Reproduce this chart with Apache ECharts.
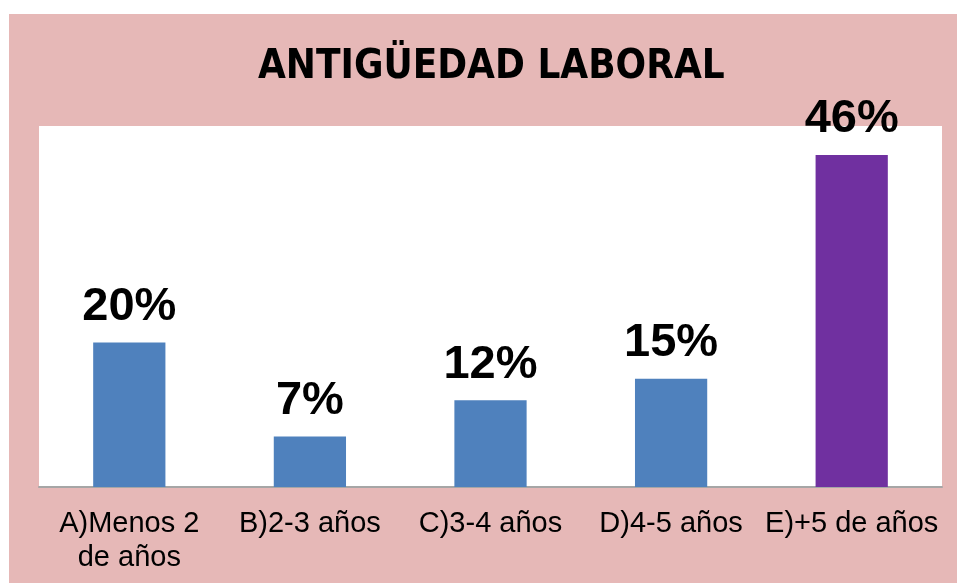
<!DOCTYPE html>
<html lang="es">
<head>
  <meta charset="UTF-8">
  <title>Antigüedad laboral</title>
  <script src="https://cdn.jsdelivr.net/npm/echarts@6/dist/echarts.min.js"></script>
  <style>
    * { margin: 0; padding: 0; }
    body { background: #fff; width: 957px; height: 583px; position: relative; overflow: hidden; }
    #chart { position: absolute; left: 9px; top: 14px; width: 948px; height: 569px; }
  </style>
</head>
<body>
  <div id="chart"></div>
  <script>
    // datos
    const categorias = ['A)Menos 2\nde años', 'B)2-3 años', 'C)3-4 años', 'D)4-5 años', 'E)+5 de años']
    const valores = [20, 7, 12, 15, 46]
    const colores = ['#4F81BD', '#4F81BD', '#4F81BD', '#4F81BD', '#7030A0']

    var myChart = echarts.init(document.getElementById('chart'))
    var option = {
      backgroundColor: '#E6B8B7',
      animation: false,
      title: {
        text: 'ANTIGÜEDAD LABORAL',
        left: 244,
        top: 29,
        textStyle: {
          fontFamily: '"Liberation Sans Narrow", "DejaVu Sans Condensed", sans-serif',
          fontWeight: 'bold',
          fontSize: 40,
          color: '#000'
        }
      },
      grid: {
        left: 30, right: 15, top: 112, bottom: 96,
        show: true, backgroundColor: '#fff', borderWidth: 0
      },
      xAxis: {
        type: 'category',
        data: categorias,
        axisTick: { show: false },
        axisLine: { lineStyle: { color: '#A6A6A6', width: 2 } },
        axisLabel: {
          interval: 0,
          margin: 20,
          fontFamily: '"Liberation Sans", Arial, sans-serif',
          fontSize: 29,
          lineHeight: 34,
          color: '#000'
        }
      },
      yAxis: {
        type: 'value',
        min: 0, max: 50,
        show: false,
        splitLine: { show: false }
      },
      series: [{
        type: 'bar',
        barWidth: '40%',
        data: valores.map((v, i) => ({ value: v, itemStyle: { color: colores[i] } })),
        label: {
          show: true,
          position: 'top',
          distance: 12,
          formatter: '{c}%',
          fontFamily: '"Liberation Sans", Arial, sans-serif',
          fontWeight: 'bold',
          fontSize: 47,
          color: '#000'
        }
      }]
    }
    myChart.setOption(option)
  </script>
</body>
</html>
